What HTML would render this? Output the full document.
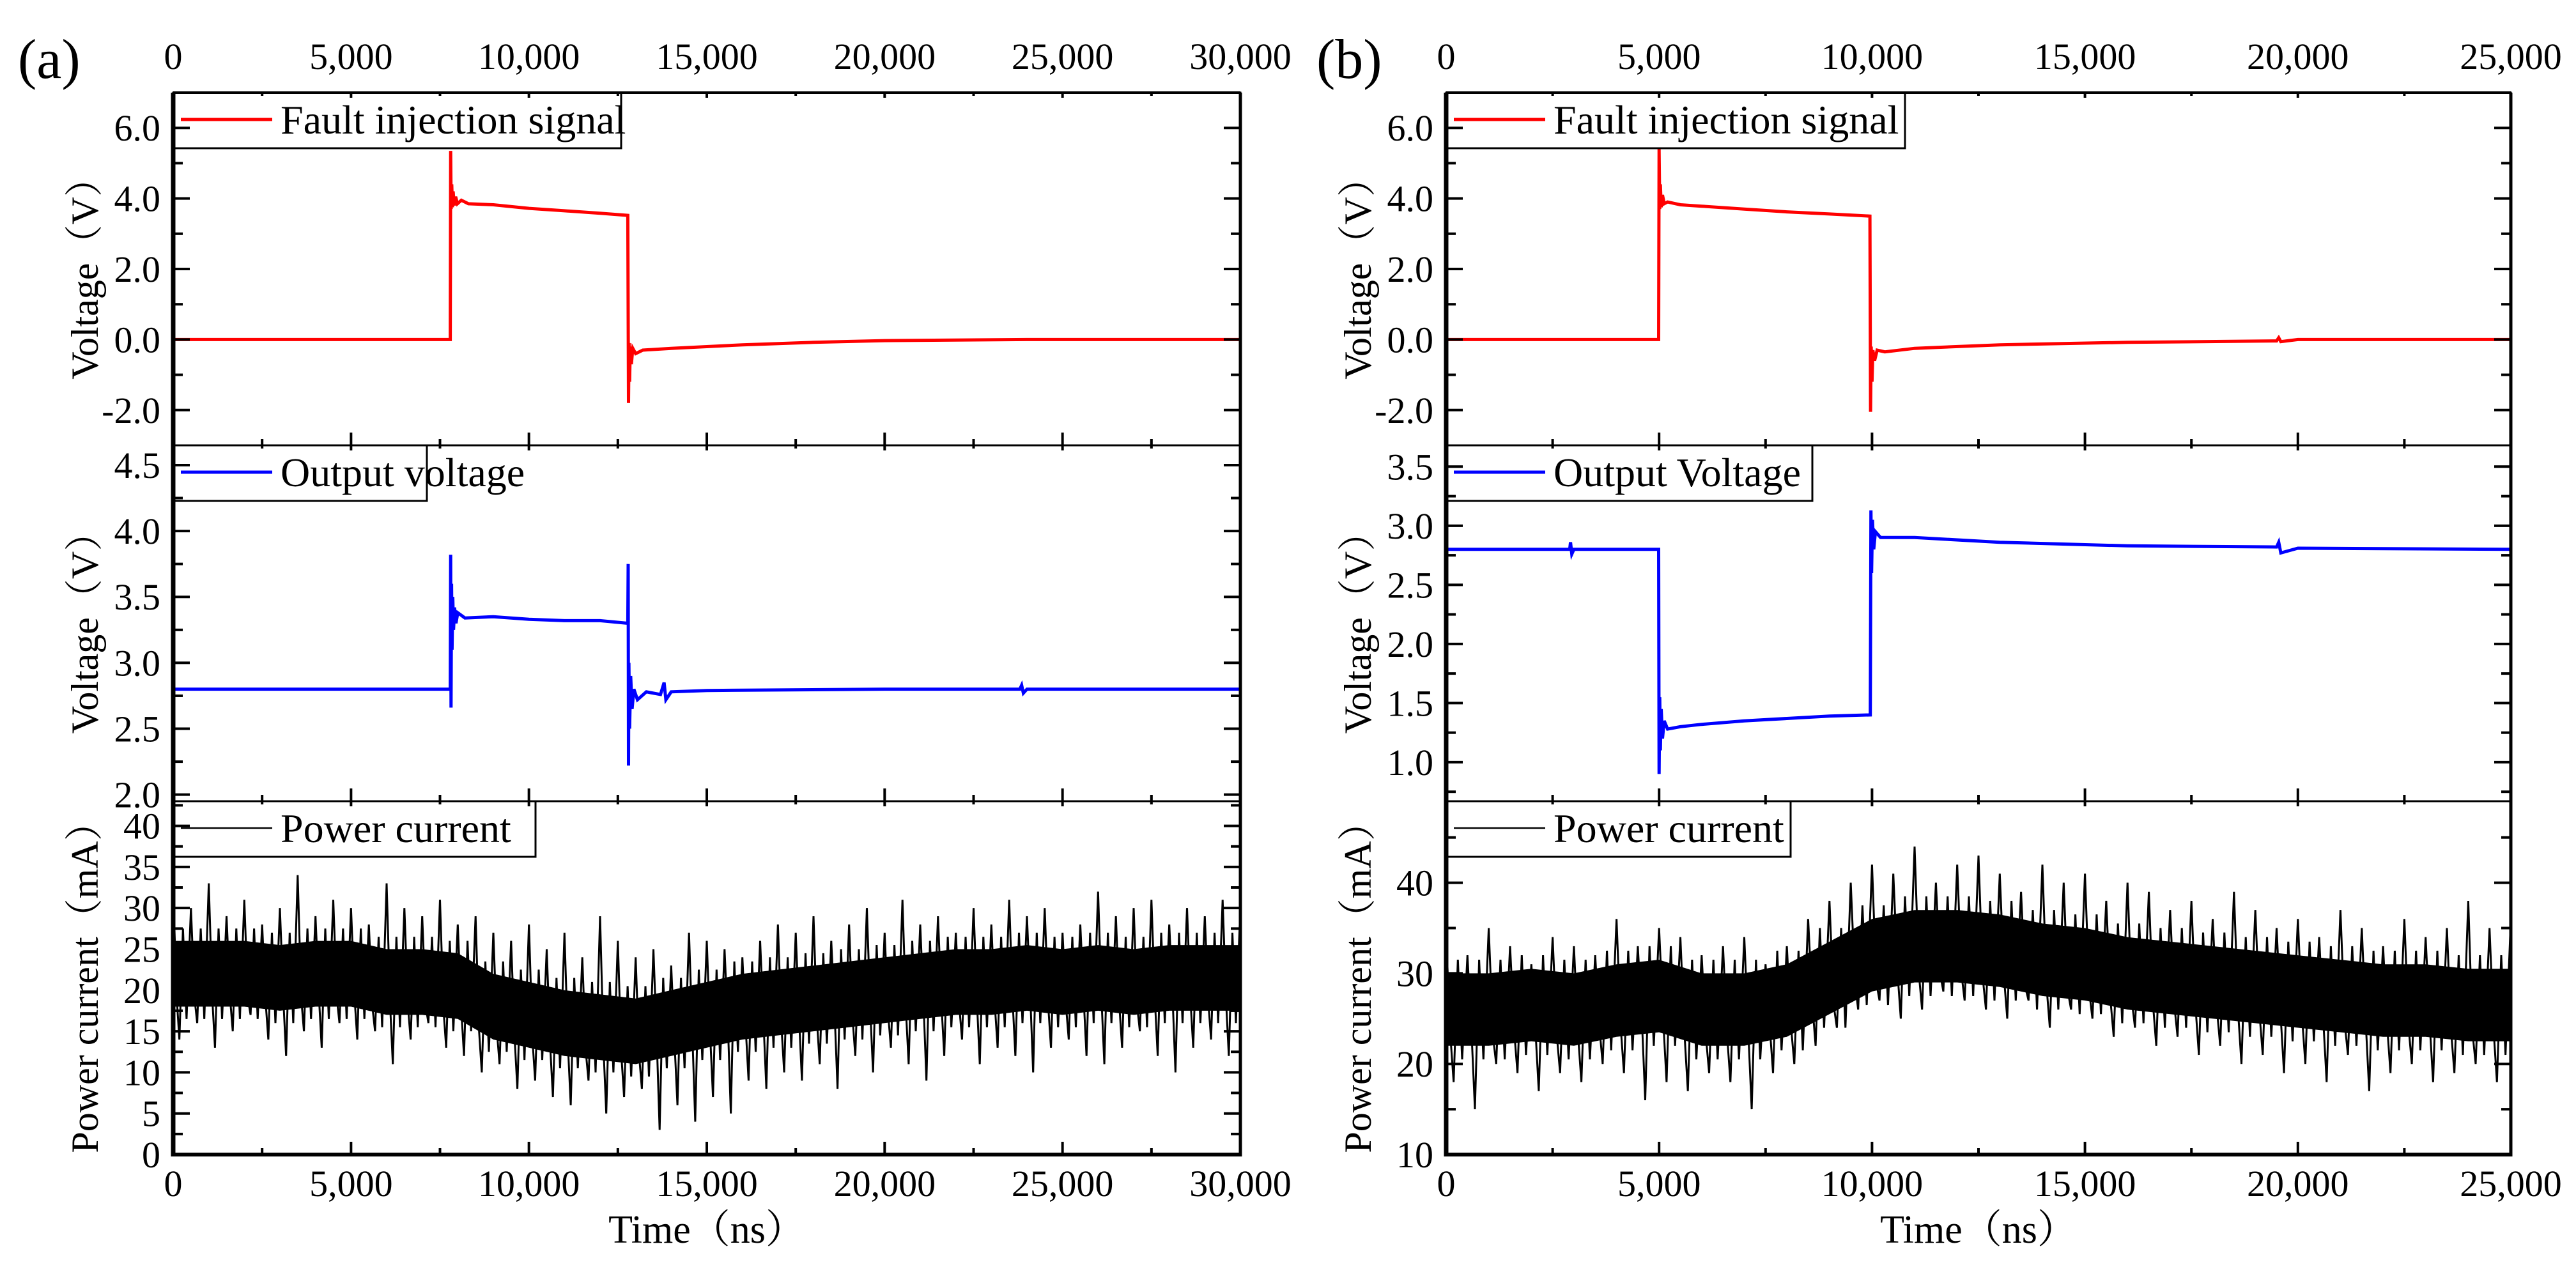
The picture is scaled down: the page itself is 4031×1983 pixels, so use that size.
<!DOCTYPE html>
<html><head><meta charset="utf-8"><style>
html,body{margin:0;padding:0;background:#fff;}
svg{display:block;}
text{font-family:"Liberation Serif","Noto Serif CJK SC","Noto Sans CJK SC",serif;fill:#000;}
</style></head><body>
<svg id="chart" width="4031" height="1983" viewBox="0 0 4031 1983" xmlns="http://www.w3.org/2000/svg"></svg>
<script>
// ---------- data (panel a) ----------
const faultA_t = [0,7790,7800,7815,7830,7850,7870,7900,7940,7990,8100,8300,9000,10000,11000,12000,12780,12800,12815,12830,12850,12880,12920,13000,13200,14000,16000,18000,20000,24000,30000];
const faultA_v = [0,0,5.35,3.7,4.4,3.75,4.2,3.8,4.05,3.85,3.95,3.85,3.82,3.72,3.65,3.58,3.52,-1.8,-0.1,-1.2,-0.2,-0.7,-0.25,-0.4,-0.3,-0.25,-0.15,-0.08,-0.03,0,0];
const outA_t = [0,7790,7800,7810,7825,7840,7860,7880,7910,7950,8000,8200,9000,10000,11000,12000,12780,12790,12800,12810,12830,12860,12900,12950,13050,13300,13700,13800,13850,14000,15000,20000,23800,23850,23900,24000,30000];
const outA_v = [2.8,2.8,3.82,2.66,3.6,3.1,3.5,3.25,3.42,3.3,3.38,3.34,3.35,3.33,3.32,3.32,3.3,3.75,2.22,3.0,2.5,2.9,2.65,2.8,2.72,2.78,2.76,2.85,2.72,2.78,2.79,2.8,2.8,2.83,2.77,2.8,2.8];
const curA_center = [22,22,22,21.5,22,22,21,21,20.5,18,17,16,15.5,15,16,17,18,18.5,19,19.5,20,20.5,21,21,21.5,21,21.5,21,21.5,21.5,21.5];
const curA_hi = [32,30,33,29,31,28,30,34,29,31,30,28,33,30,29,31,28,29,27,26,28,25,27,24,29,26,24,25,23,27,26,25,24,26,28,27,29,26,28,30,27,31,28,29,27,30,28,31,29,30,27,28,32,29,30,31,28,30,29,31,30];
const curA_lo = [14,16,13,15,17,14,12,15,13,16,14,15,11,14,16,13,12,10,11,8,9,7,6,9,5,7,8,3,6,4,7,5,9,8,10,9,11,8,12,10,13,11,9,12,14,11,13,12,10,13,14,12,11,13,15,12,10,13,14,12,13];
// ---------- data (panel b) ----------
const faultB_t = [0,4990,5000,5015,5030,5050,5080,5120,5200,5500,6000,7000,8000,9000,9950,9965,9980,10000,10020,10060,10120,10300,11000,13000,16000,19500,19550,19600,20000,25000];
const faultB_v = [0,0,5.4,3.7,4.4,3.75,4.1,3.85,3.9,3.82,3.78,3.7,3.62,3.56,3.5,-2.05,-0.2,-1.2,-0.3,-0.6,-0.3,-0.35,-0.25,-0.15,-0.08,-0.04,0.05,-0.06,0,0];
const outB_t = [0,2900,2920,2950,3000,4990,5000,5015,5030,5050,5080,5120,5200,5500,6000,7000,8000,9000,9960,9975,9990,10010,10040,10080,10200,11000,13000,16000,19500,19550,19600,20000,25000];
const outB_v = [2.8,2.8,2.86,2.76,2.8,2.8,0.9,1.55,1.1,1.45,1.2,1.35,1.28,1.3,1.32,1.35,1.37,1.39,1.4,3.13,2.6,3.05,2.8,2.95,2.9,2.9,2.86,2.83,2.82,2.86,2.77,2.81,2.8];
const curB_center = [26,26,26.5,26,27,27.5,26,26,27,29.5,32,33,33,32.5,31.5,31,30,29.5,29,28.5,28,27.5,27,27,26.5,26.5];
const curB_hi = [34,32,35,33,31,34,33,32,36,33,35,34,32,33,34,31,33,36,38,40,42,41,44,40,42,43,41,39,42,40,41,38,40,39,37,38,36,39,37,35,36,34,37,35,33,36,34,35,38,35,36];
const curB_lo = [18,15,20,19,17,19,18,20,19,16,18,17,19,18,15,19,20,22,24,26,27,25,26,28,27,26,25,27,24,26,25,23,24,22,23,21,22,20,21,19,20,18,21,17,19,20,18,19,20,18,19];
// ---------- ticks ----------
const xTicksA = [0,5000,10000,15000,20000,25000,30000];
const xTicksB = [0,5000,10000,15000,20000,25000];
const yTicksFault = [-2,0,2,4,6];
const yTicksOutA = [2.0,2.5,3.0,3.5,4.0,4.5];
const yTicksOutB = [1.0,1.5,2.0,2.5,3.0,3.5];
const yTicksCurA = [0,5,10,15,20,25,30,35,40];
const yTicksCurB = [10,20,30,40];

const NS = "http://www.w3.org/2000/svg";
const svg = document.getElementById('chart');
function el(tag, attrs, parent){
  const e = document.createElementNS(NS, tag);
  for (const k in attrs) e.setAttribute(k, attrs[k]);
  (parent||svg).appendChild(e);
  return e;
}
function txt(x,y,s,size,anchor,rot,parent){
  const t = el('text', {x:0,y:0,'font-size':size,'text-anchor':anchor||'start',
    transform:'translate('+x+','+y+')'+(rot?' rotate(-90)':'')}, parent);
  t.textContent = s;
  return t;
}

const rows = [[145,697],[697,1254],[1254,1807]];

function panel(cfg){
  const g = el('g', {});
  
  
  const X = v => cfg.x0 + (v/cfg.xmax)*(cfg.x1-cfg.x0);
  cfg.subs.forEach((sp, i) => {
    const [top, bot] = rows[i];
    const Y = v => bot - (v-sp.ymin)/(sp.ymax-sp.ymin)*(bot-top);
    const sg = el('g', {}, g);
    
    
    const cid = cfg.name+'-clip-'+i;
    const cp = el('clipPath', {id:cid}, sg);
    el('rect', {x:cfg.x0, y:top, width:cfg.x1-cfg.x0, height:bot-top}, cp);
    const dg = el('g', {'clip-path':'url(#'+cid+')'}, sg);
    if (sp.kind === 'line') {
      let d = '';
      sp.t.forEach((tv, k) => { d += (k?'L':'M') + X(tv).toFixed(1) + ' ' + Y(sp.v[k]).toFixed(1); });
      const p = el('path', {d:d, fill:'none', stroke:sp.color, 'stroke-width':5, 'stroke-linejoin':'miter'}, dg);
      
      
    } else {
      const n = sp.center.length;
      const step = cfg.xmax/(n-1);
      let up = '', dn = '';
      for (let k=0;k<n;k++){ up += (k?'L':'M') + X(k*step).toFixed(1)+' '+Y(sp.center[k]+4).toFixed(1); }
      for (let k=n-1;k>=0;k--){ dn += 'L' + X(k*step).toFixed(1)+' '+Y(sp.center[k]-4).toFixed(1); }
      const band = el('path', {d:up+dn+'Z', fill:'#000'}, dg);
      
      
      const m = sp.hi.length;
      const hs = cfg.xmax/(m-1);
      let d = '';
      for (let k=0;k<m;k++){
        const c = sp.center[Math.min(Math.round(k*hs/step), n-1)];
        d += (k?'L':'M') + X(k*hs).toFixed(1)+' '+Y(sp.hi[k]).toFixed(1);
        d += 'L' + X(k*hs+hs*0.2).toFixed(1)+' '+Y(c-3).toFixed(1);
        d += 'L' + X(k*hs+hs*0.35).toFixed(1)+' '+Y(sp.lo[k]).toFixed(1);
        d += 'L' + X(k*hs+hs*0.55).toFixed(1)+' '+Y(c+5.5).toFixed(1);
        d += 'L' + X(k*hs+hs*0.75).toFixed(1)+' '+Y(c-5.5).toFixed(1);
      }
      const sp2 = el('path', {d:d, fill:'none', stroke:'#000', 'stroke-width':3}, dg);
      
      
    }
    const lg = el('g', {}, sg);
    
    
    el('rect', {x:cfg.x0, y:top, width:sp.legW, height:87, fill:'#fff', stroke:'#000', 'stroke-width':3}, lg);
    el('line', {x1:cfg.x0+12, x2:cfg.x0+155, y1:top+42, y2:top+42, stroke:sp.color, 'stroke-width':sp.kind==='line'?5:2.5}, lg);
    const lt = txt(cfg.x0+168, top+64, sp.label, 64, 'start', false, lg);
    
    
    const ax = el('g', {}, sg);
    
    
    const majStep = sp.ticks[1]-sp.ticks[0];
    for (let v = sp.ticks[0]-majStep; v <= sp.ymax+1e-9; v += majStep/2) {
      if (v < sp.ymin-1e-9) continue;
      const y = Y(v);
      if (y < top+2 || y > bot-2) continue;
      const isMaj = sp.ticks.some(t => Math.abs(t-v)<1e-9);
      const len = isMaj ? 26 : 15;
      el('line', {x1:cfg.x0, x2:cfg.x0+len, y1:y, y2:y, stroke:'#000', 'stroke-width':4}, ax);
      el('line', {x1:cfg.x1, x2:cfg.x1-len, y1:y, y2:y, stroke:'#000', 'stroke-width':4}, ax);
    }
    sp.ticks.forEach(v => {
      const t = txt(cfg.x0-20, Y(v)+20, sp.fmt(v), 58, 'end', false, ax);
      
      
    });
    for (let v = 0; v <= cfg.xmax; v += 2500) {
      const isMaj = v % 5000 === 0;
      const x = X(v);
      if (v === 0 || v === cfg.xmax) continue;
      el('line', {x1:x, x2:x, y1:bot, y2:bot-(isMaj?20:10), stroke:'#000', 'stroke-width':4}, ax);
      el('line', {x1:x, x2:x, y1:top, y2:top+(isMaj?8:5), stroke:'#000', 'stroke-width':4}, ax);
    }
    el('rect', {x:cfg.x0, y:top, width:cfg.x1-cfg.x0, height:bot-top, fill:'none', stroke:'#000', 'stroke-width':3}, sg);
    const yt = txt(cfg.x0-118, (top+bot)/2, sp.ytitle, 60, 'middle', true, sg);
    
    
  });
  el('line', {x1:cfg.x0, x2:cfg.x0, y1:145, y2:1810, stroke:'#000', 'stroke-width':7}, g);
  el('line', {x1:cfg.x1, x2:cfg.x1, y1:145, y2:1810, stroke:'#000', 'stroke-width':5}, g);
  el('line', {x1:cfg.x0-3, x2:cfg.x1+2, y1:1807, y2:1807, stroke:'#000', 'stroke-width':6}, g);
  el('line', {x1:cfg.x0, x2:cfg.x1, y1:145, y2:145, stroke:'#000', 'stroke-width':4}, g);
  cfg.xticks.forEach(v => {
    const fmt = v.toLocaleString('en-US');
    const b = txt(X(v), 1872, fmt, 58, 'middle', false, g);
    
    
    const tp = txt(X(v), 108, fmt, 58, 'middle', false, g);
    
    
  });
  const xt = txt((cfg.x0+cfg.x1)/2, 1945, 'Time（ns）', 62, 'middle', false, g);
  
  
  const pl = txt(cfg.plx, 122, cfg.panelLabel, 88, 'start', false, g);
  
  
}

const f1 = v => v.toFixed(1);
const f0 = v => String(v);
panel({name:'panel-a', x0:271, x1:1941, xmax:30000, xticks:xTicksA, plx:28, panelLabel:'(a)', subs:[
  {name:'fault-subplot-a', kind:'line', series:'fault-injection-line-a', t:faultA_t, v:faultA_v, color:'#ff0000', ymin:-3, ymax:7, ticks:yTicksFault, fmt:f1, label:'Fault injection signal', legW:701, ytitle:'Voltage（V）'},
  {name:'output-subplot-a', kind:'line', series:'output-voltage-line-a', t:outA_t, v:outA_v, color:'#0000ff', ymin:1.95, ymax:4.65, ticks:yTicksOutA, fmt:f1, label:'Output voltage', legW:397, ytitle:'Voltage（V）'},
  {name:'current-subplot-a', kind:'noise', series:'power-current-a', center:curA_center, hi:curA_hi, lo:curA_lo, color:'#000', ymin:0, ymax:43, ticks:yTicksCurA, fmt:f0, label:'Power current', legW:567, ytitle:'Power current（mA）'}
]});
panel({name:'panel-b', x0:2263, x1:3929, xmax:25000, xticks:xTicksB, plx:2060, panelLabel:'(b)', subs:[
  {name:'fault-subplot-b', kind:'line', series:'fault-injection-line-b', t:faultB_t, v:faultB_v, color:'#ff0000', ymin:-3, ymax:7, ticks:yTicksFault, fmt:f1, label:'Fault injection signal', legW:718, ytitle:'Voltage（V）'},
  {name:'output-subplot-b', kind:'line', series:'output-voltage-line-b', t:outB_t, v:outB_v, color:'#0000ff', ymin:0.67, ymax:3.68, ticks:yTicksOutB, fmt:f1, label:'Output Voltage', legW:573, ytitle:'Voltage（V）'},
  {name:'current-subplot-b', kind:'noise', series:'power-current-b', center:curB_center, hi:curB_hi, lo:curB_lo, color:'#000', ymin:10, ymax:49, ticks:yTicksCurB, fmt:f0, label:'Power current', legW:539, ytitle:'Power current（mA）'}
]});
</script>
</body></html>
